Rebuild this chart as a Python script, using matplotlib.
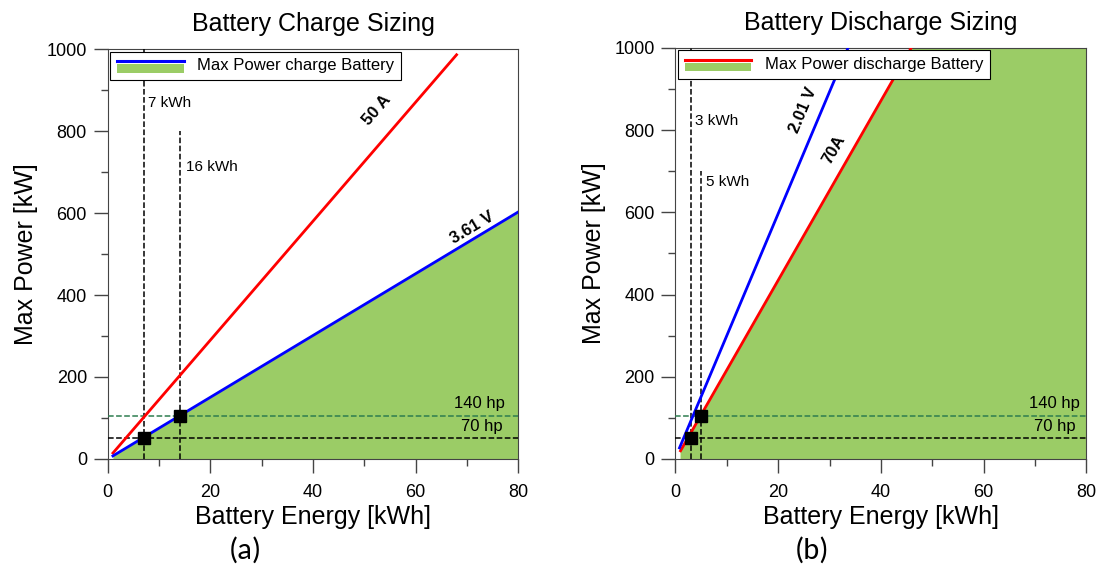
import numpy as np
import matplotlib.pyplot as plt
from matplotlib.patches import Rectangle
from matplotlib.lines import Line2D
from matplotlib.legend_handler import HandlerBase
from matplotlib.ticker import MultipleLocator

plt.rcParams['font.family'] = ['Liberation Sans', 'DejaVu Sans']
GREEN = '#9bcc66'
HPGREEN = '#2e7d4f'

# charge side
charge_E = [1, 80]
charge_volt = [7.53, 602.4]       # 3.61 V line
charge_amp_E = [1, 68]
charge_amp = [14.5, 986.0]        # 50 A line
charge_pts_E = [7, 14]
charge_pts_P = [52.2, 104.4]
charge_vlines = [7, 14]
charge_vtops = [1000, 800]

# discharge side
dis_volt_E = [0.8, 33.6]
dis_volt = [27, 1000]             # 2.01 V line
dis_amp_E = [1, 45.9, 80]
dis_amp = [19.9, 1000, 1746]      # 70 A line
dis_pts_E = [3, 5]
dis_pts_P = [52.2, 104.4]
dis_vlines = [3, 5]
dis_vtops = [1000, 700]

hp_levels = [52.2, 104.4]
hp_labels = ['70 hp', '140 hp']


class LineOverPatch(HandlerBase):
    def __init__(self, color):
        super().__init__()
        self.color = color

    def create_artists(self, legend, orig_handle, xdescent, ydescent,
                       width, height, fontsize, trans):
        rect = Rectangle((-xdescent, -ydescent - 0.2 * height), width, height * 0.7,
                         facecolor=GREEN, edgecolor='none', transform=trans)
        line = Line2D([-xdescent, -xdescent + width],
                      [-ydescent + height * 0.75] * 2,
                      color=self.color, lw=2.2, transform=trans)
        return [rect, line]


def style_axes(ax, title):
    ax.set_xlim(0, 80)
    ax.set_ylim(0, 1000)
    ax.xaxis.set_major_locator(MultipleLocator(20))
    ax.xaxis.set_minor_locator(MultipleLocator(10))
    ax.yaxis.set_major_locator(MultipleLocator(200))
    ax.yaxis.set_minor_locator(MultipleLocator(100))
    ax.tick_params(which='major', direction='out', length=10, width=1,
                   labelsize=13, color='#444444')
    ax.tick_params(axis='x', which='major', pad=8)
    ax.tick_params(axis='y', which='major', pad=5)
    ax.tick_params(which='minor', direction='out', length=5, width=1, color='#444444')
    for s in ax.spines.values():
        s.set_color('#444444')
    ax.set_xlabel('Battery Energy [kWh]', fontsize=18, labelpad=3)
    ax.set_ylabel('Max Power [kW]', fontsize=18, labelpad=6)
    ax.set_title(title, fontsize=18, pad=13)


def hp_lines(ax, x140, x70):
    ax.axhline(hp_levels[0], color='black', ls='--', lw=1.1, zorder=3)
    ax.axhline(hp_levels[1], color=HPGREEN, ls='--', lw=1.1, zorder=3)
    ax.text(x140, hp_levels[1] + 12, hp_labels[1], ha='right', va='bottom', fontsize=12)
    ax.text(x70, hp_levels[0] + 8, hp_labels[0], ha='right', va='bottom', fontsize=12)


fig = plt.figure(figsize=(11, 5.67), dpi=100)
ax1 = fig.add_axes([0.098, 0.1905, 0.373, 0.723])
ax2 = fig.add_axes([0.614, 0.1905, 0.3736, 0.725])

# (a) charge
fill1 = ax1.fill_between(charge_E, 0, charge_volt, color=GREEN, lw=0, zorder=1)
for x, top in zip(charge_vlines, charge_vtops):
    ax1.plot([x, x], [0, top], color='black', ls='--', lw=1.1, zorder=3)
hp_lines(ax1, 77.5, 76.9)
ax1.plot(charge_amp_E, charge_amp, color='red', lw=2, zorder=4)
ax1.plot(charge_E, charge_volt, color='blue', lw=2, zorder=4)
ax1.plot(charge_pts_E, charge_pts_P, 's', color='black', ms=9, zorder=5)
ax1.text(7.8, 868, '7 kWh', fontsize=11, va='center')
ax1.text(15.2, 712, '16 kWh', fontsize=11, va='center')
ax1.text(52.5, 850, '50 A', fontsize=12, fontweight='bold',
         rotation=49, ha='center', va='center')
ax1.text(71.0, 565, '3.61 V', fontsize=12, fontweight='bold',
         rotation=31, ha='center', va='center')
style_axes(ax1, 'Battery Charge Sizing')
leg1 = ax1.legend([fill1], ['Max Power charge Battery'], loc='upper left',
                  handler_map={fill1: LineOverPatch('blue')},
                  prop={'size': 12}, handlelength=4.0,
                  fancybox=False, framealpha=1, edgecolor='black',
                  borderaxespad=0.15, borderpad=0.4)
leg1.get_frame().set_linewidth(0.8)
leg1.set_zorder(10)

# (b) discharge
fill2 = ax2.fill_between(dis_amp_E, 0, dis_amp, color=GREEN, lw=0, zorder=1)
for x, top in zip(dis_vlines, dis_vtops):
    ax2.plot([x, x], [0, top], color='black', ls='--', lw=1.1, zorder=3)
hp_lines(ax2, 78.8, 77.9)
ax2.plot(dis_amp_E, dis_amp, color='red', lw=2, zorder=4)
ax2.plot(dis_volt_E, dis_volt, color='blue', lw=2, zorder=4)
ax2.plot(dis_pts_E, dis_pts_P, 's', color='black', ms=9, zorder=5)
ax2.text(3.9, 822, '3 kWh', fontsize=11, va='center')
ax2.text(6.0, 674, '5 kWh', fontsize=11, va='center')
ax2.text(24.9, 849, '2.01 V', fontsize=12, fontweight='bold',
         rotation=67, ha='center', va='center')
ax2.text(30.8, 752, '70A', fontsize=12, fontweight='bold',
         rotation=60, ha='center', va='center')
style_axes(ax2, 'Battery Discharge Sizing')
leg2 = ax2.legend([fill2], ['Max Power discharge Battery'], loc='upper left',
                  handler_map={fill2: LineOverPatch('red')},
                  prop={'size': 12}, handlelength=4.0,
                  fancybox=False, framealpha=1, edgecolor='black',
                  borderaxespad=0.15, borderpad=0.4)
leg2.get_frame().set_linewidth(0.8)
leg2.set_zorder(10)

fig.text(245 / 1100, 1 - 550 / 567, '(a)', fontsize=22, family=['Carlito', 'DejaVu Sans'],
         ha='center', va='center')
fig.text(812 / 1100, 1 - 550 / 567, '(b)', fontsize=22, family=['Carlito', 'DejaVu Sans'],
         ha='center', va='center')

fig.savefig('out.png', dpi=100)
